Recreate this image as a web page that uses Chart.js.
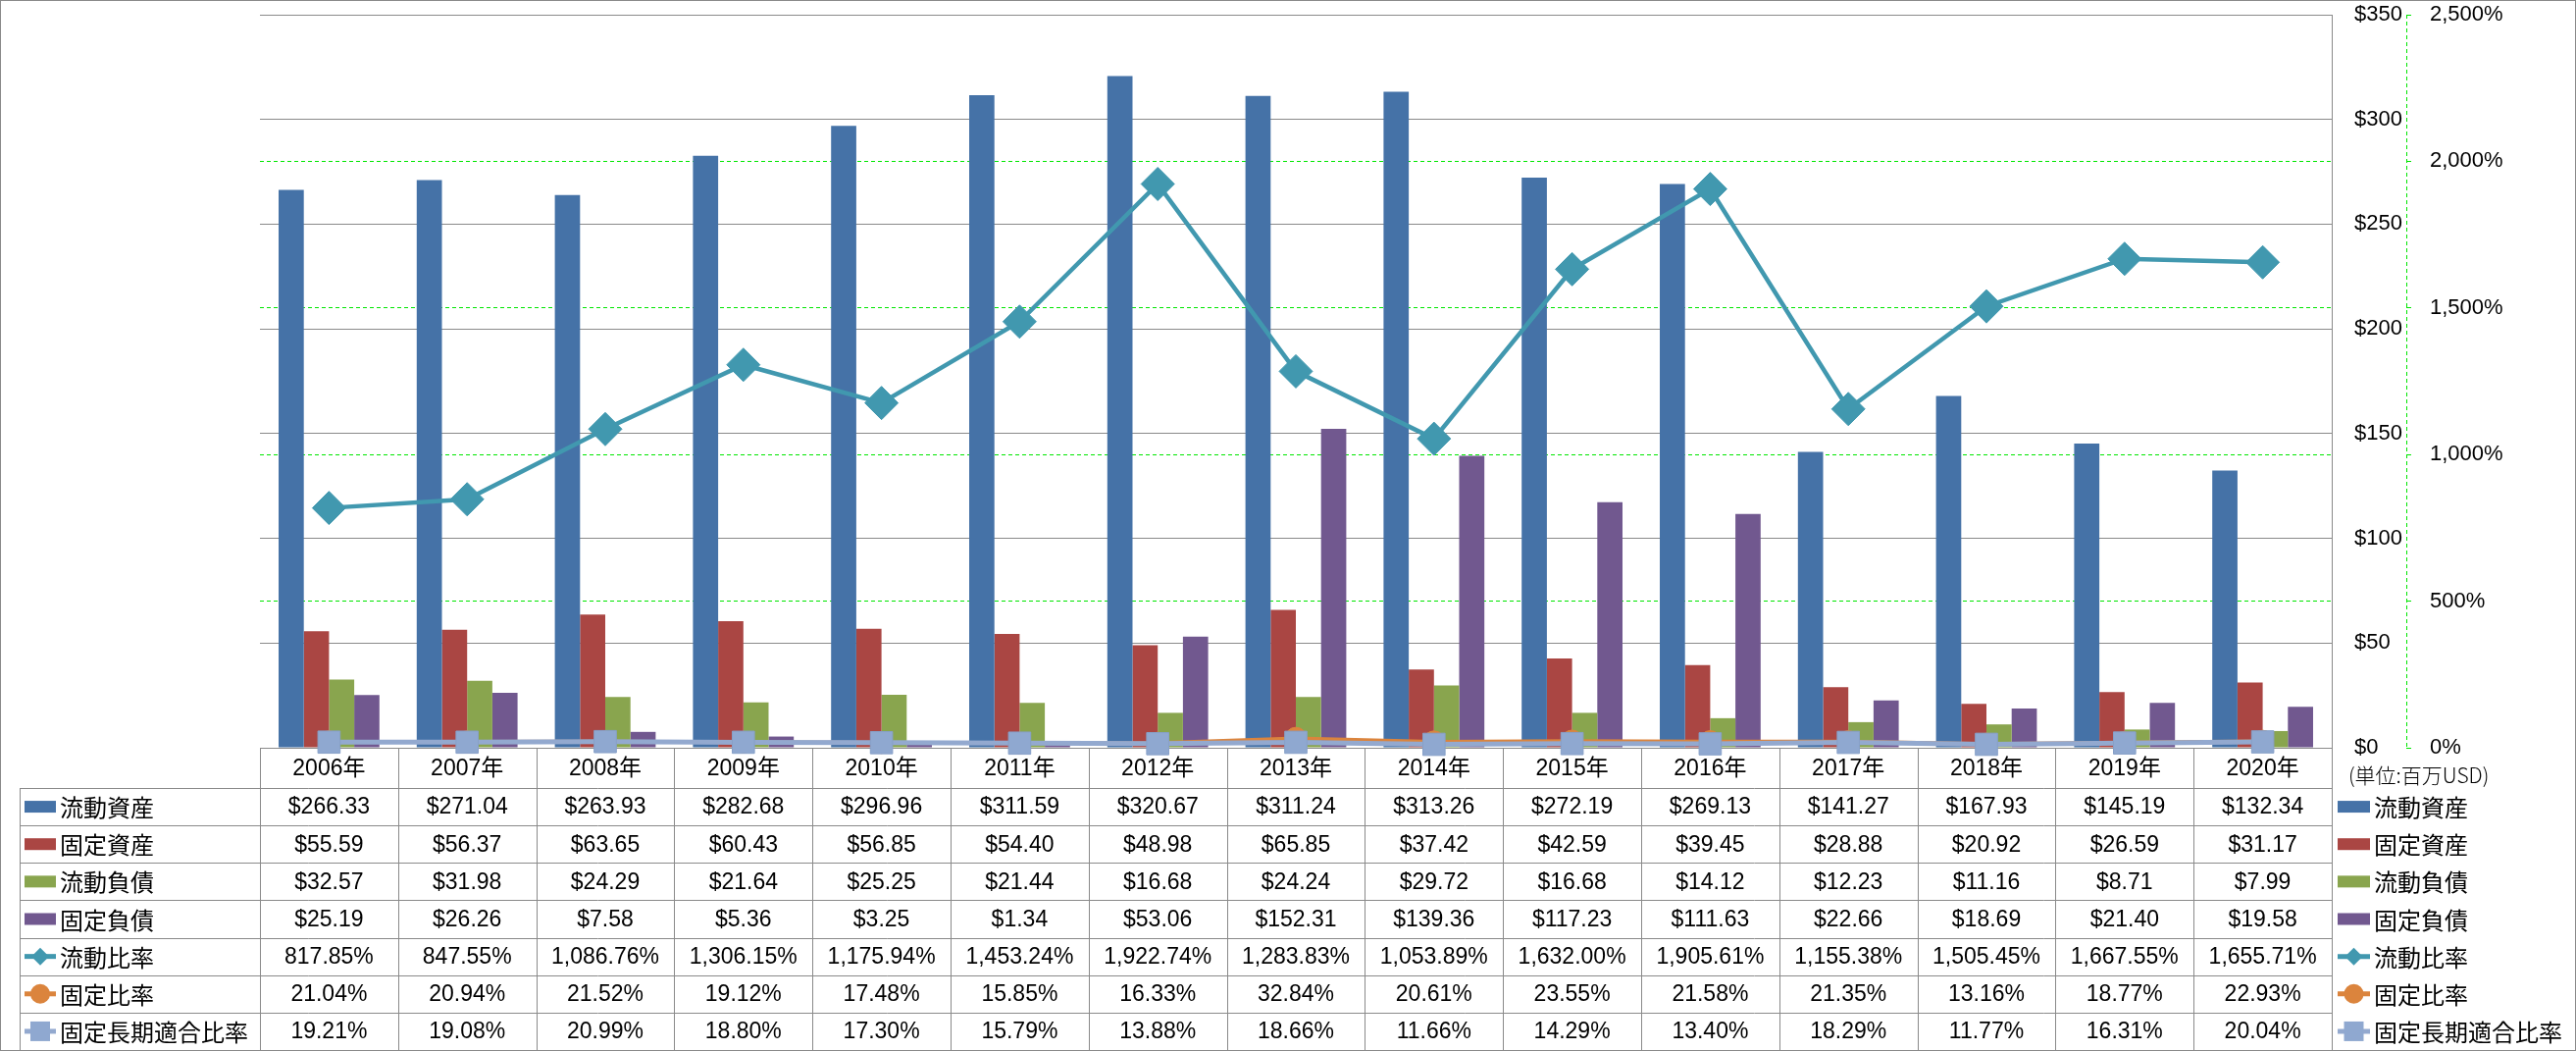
<!DOCTYPE html>
<html>
<head>
<meta charset="utf-8">
<title>流動資産・固定資産・負債と比率</title>
<script src="https://cdn.jsdelivr.net/npm/chart.js@4.4.1/dist/chart.umd.min.js"></script>
<style>
html, body { margin: 0; padding: 0; background: #fff; }
#wrap { width: 2626px; height: 1071px; position: relative; }
</style>
</head>
<body>
<div id="wrap"><canvas id="finChart"></canvas></div>
<script>
// --- data (単位: 百万USD / %) ---
var years = ['2006年','2007年','2008年','2009年','2010年','2011年','2012年','2013年','2014年','2015年','2016年','2017年','2018年','2019年','2020年'];
var currentAssets = [266.33, 271.04, 263.93, 282.68, 296.96, 311.59, 320.67, 311.24, 313.26, 272.19, 269.13, 141.27, 167.93, 145.19, 132.34];
var fixedAssets = [55.59, 56.37, 63.65, 60.43, 56.85, 54.40, 48.98, 65.85, 37.42, 42.59, 39.45, 28.88, 20.92, 26.59, 31.17];
var currentLiabilities = [32.57, 31.98, 24.29, 21.64, 25.25, 21.44, 16.68, 24.24, 29.72, 16.68, 14.12, 12.23, 11.16, 8.71, 7.99];
var fixedLiabilities = [25.19, 26.26, 7.58, 5.36, 3.25, 1.34, 53.06, 152.31, 139.36, 117.23, 111.63, 22.66, 18.69, 21.40, 19.58];
var currentRatio = [817.85, 847.55, 1086.76, 1306.15, 1175.94, 1453.24, 1922.74, 1283.83, 1053.89, 1632.00, 1905.61, 1155.38, 1505.45, 1667.55, 1655.71];
var fixedRatio = [21.04, 20.94, 21.52, 19.12, 17.48, 15.85, 16.33, 32.84, 20.61, 23.55, 21.58, 21.35, 13.16, 18.77, 22.93];
var fixedLongTermRatio = [19.21, 19.08, 20.99, 18.80, 17.30, 15.79, 13.88, 18.66, 11.66, 14.29, 13.40, 18.29, 11.77, 16.31, 20.04];
var seriesNames = ['流動資産', '固定資産', '流動負債', '固定負債', '流動比率', '固定比率', '固定長期適合比率'];
var unitLabel = '(単位:百万USD)';

var lineGray = '#8a8a8a';
var gridGreen = '#00e600';
var numFont = '"Liberation Sans", "Noto Sans CJK JP", sans-serif';
var jpFont = '"Noto Sans CJK JP", sans-serif';

function fmtDollar(v) {
    return '$' + v.toLocaleString('en-US', {minimumFractionDigits: 2, maximumFractionDigits: 2});
}
function fmtPct(v) {
    return v.toLocaleString('en-US', {minimumFractionDigits: 2, maximumFractionDigits: 2}) + '%';
}

// small legend icon: bar swatch or line + marker
function drawIcon(ctx, ds, x0, x1, yc) {
    ctx.save();
    if (ds.type !== 'line') {
        ctx.fillStyle = ds.backgroundColor;
        ctx.fillRect(x0, yc - 6, x1 - x0, 12);
    } else {
        ctx.strokeStyle = ds.borderColor;
        ctx.lineWidth = 5;
        ctx.beginPath();
        ctx.moveTo(x0, yc);
        ctx.lineTo(x1, yc);
        ctx.stroke();
        var cx = (x0 + x1) / 2;
        ctx.fillStyle = ds.pointBackgroundColor;
        ctx.beginPath();
        if (ds.pointStyle === 'rectRot') {
            ctx.moveTo(cx, yc - 9); ctx.lineTo(cx + 9, yc); ctx.lineTo(cx, yc + 9); ctx.lineTo(cx - 9, yc);
            ctx.closePath();
        } else if (ds.pointStyle === 'circle') {
            ctx.arc(cx, yc, 10, 0, Math.PI * 2);
        } else {
            ctx.rect(cx - 10, yc - 10, 20, 20);
        }
        ctx.fill();
    }
    ctx.restore();
}

// axes are placed by hand, so drop the label overflow padding
function fixAxis(w) {
    return function(s) {
        s.width = w;
        s.paddingTop = 0;
        s.paddingBottom = 0;
    };
}

var tablePlugin = {
    id: 'dataTable',
    afterDraw: function(chart) {
        var ctx = chart.ctx;
        var area = chart.chartArea;
        var xs = chart.scales.x;
        var y2 = chart.scales.y2;
        var n = years.length;
        var colW = (area.right - area.left) / n;
        var headTop = area.bottom;
        var headBottom = 803;
        var tableBottom = 1070;
        var tableLeft = 20;
        var rowH = (tableBottom - headBottom) / seriesNames.length;
        var sets = chart.data.datasets;
        var values = [currentAssets, fixedAssets, currentLiabilities, fixedLiabilities, currentRatio, fixedRatio, fixedLongTermRatio];

        ctx.save();
        // dashed axis line of the ratio scale
        ctx.strokeStyle = gridGreen;
        ctx.lineWidth = 1;
        ctx.setLineDash([4, 3]);
        ctx.beginPath();
        ctx.moveTo(Math.round(y2.left) + 0.5, area.top);
        ctx.lineTo(Math.round(y2.left) + 0.5, area.bottom);
        ctx.stroke();
        ctx.setLineDash([]);

        // table grid
        ctx.strokeStyle = lineGray;
        ctx.beginPath();
        for (var i = 0; i <= n; i++) {
            var vx = Math.round(area.left + i * colW) + 0.5;
            ctx.moveTo(vx, headTop);
            ctx.lineTo(vx, tableBottom);
        }
        ctx.moveTo(tableLeft + 0.5, headBottom);
        ctx.lineTo(tableLeft + 0.5, tableBottom);
        for (var r = 0; r <= seriesNames.length; r++) {
            var hy = Math.round(headBottom + r * rowH) + 0.5;
            ctx.moveTo(tableLeft, hy);
            ctx.lineTo(Math.round(area.right) + 1, hy);
        }
        ctx.stroke();

        // header row
        ctx.fillStyle = '#000';
        ctx.textAlign = 'center';
        ctx.textBaseline = 'middle';
        ctx.font = '23px ' + numFont;
        for (var c = 0; c < n; c++) {
            ctx.fillText(years[c], xs.getPixelForValue(c), (headTop + headBottom) / 2 + 1);
        }

        // body rows
        for (var s = 0; s < seriesNames.length; s++) {
            var yc = headBottom + (s + 0.5) * rowH;
            ctx.font = '23px ' + numFont;
            ctx.textAlign = 'center';
            for (var k = 0; k < n; k++) {
                var txt = s < 4 ? fmtDollar(values[s][k]) : fmtPct(values[s][k]);
                ctx.fillText(txt, xs.getPixelForValue(k), yc + 1);
            }
            // left legend
            drawIcon(ctx, sets[s], 25, 57, yc);
            ctx.font = '24px ' + jpFont;
            ctx.textAlign = 'left';
            ctx.fillText(seriesNames[s], 61, yc + 1);
            // right legend
            drawIcon(ctx, sets[s], 2383, 2416, yc);
            ctx.fillText(seriesNames[s], 2420, yc + 1);
        }

        // unit
        ctx.font = '300 21px ' + jpFont;
        ctx.textAlign = 'left';
        ctx.fillText(unitLabel, 2394, 790);

        // outer frame
        ctx.strokeStyle = lineGray;
        ctx.strokeRect(0.5, 0.5, chart.width - 1, chart.height - 1);
        ctx.restore();
    }
};

var ctx = document.getElementById('finChart').getContext('2d');
var chart = new Chart(ctx, {
    type: 'bar',
    data: {
        labels: years,
        datasets: [
            { label: seriesNames[0], data: currentAssets, backgroundColor: '#4572a7', yAxisID: 'y', order: 4 },
            { label: seriesNames[1], data: fixedAssets, backgroundColor: '#aa4643', yAxisID: 'y', order: 4 },
            { label: seriesNames[2], data: currentLiabilities, backgroundColor: '#89a54e', yAxisID: 'y', order: 4 },
            { label: seriesNames[3], data: fixedLiabilities, backgroundColor: '#71588f', yAxisID: 'y', order: 4 },
            {
                type: 'line', label: seriesNames[4], data: currentRatio, yAxisID: 'y2', order: 1,
                borderColor: '#4198af', backgroundColor: '#4198af', borderWidth: 4.5,
                pointStyle: 'rectRot', pointRadius: 17, pointBackgroundColor: '#4198af',
                pointBorderColor: '#4198af', pointBorderWidth: 1, tension: 0, clip: false
            },
            {
                type: 'line', label: seriesNames[5], data: fixedRatio, yAxisID: 'y2', order: 3,
                borderColor: '#db843d', backgroundColor: '#db843d', borderWidth: 3.5,
                pointStyle: 'circle', pointRadius: 11, pointBackgroundColor: '#db843d',
                pointBorderColor: '#db843d', pointBorderWidth: 1, tension: 0, clip: false
            },
            {
                type: 'line', label: seriesNames[6], data: fixedLongTermRatio, yAxisID: 'y2', order: 2,
                borderColor: '#93a9cf', backgroundColor: '#93a9cf', borderWidth: 5,
                pointStyle: 'rect', pointRadius: 16, pointBackgroundColor: '#8fa8d0',
                pointBorderColor: '#87a0c8', pointBorderWidth: 1, tension: 0, clip: false
            }
        ]
    },
    options: {
        responsive: true,
        maintainAspectRatio: false,
        animation: false,
        devicePixelRatio: 1,
        categoryPercentage: 0.73,
        barPercentage: 1,
        layout: { autoPadding: false, padding: { left: 265, top: 15, bottom: 309, right: 53 } },
        plugins: {
            legend: { display: false },
            tooltip: { enabled: false }
        },
        scales: {
            x: { display: false },
            y: {
                position: 'right', weight: 0, min: 0, max: 350,
                ticks: {
                    stepSize: 50, padding: 23, color: '#000',
                    font: { family: numFont, size: 22 },
                    callback: function(v) { return '$' + v; }
                },
                grid: { color: lineGray, lineWidth: 1, drawTicks: false },
                border: { display: true, color: lineGray, width: 1 },
                afterFit: fixAxis(76)
            },
            y2: {
                position: 'right', weight: 1, min: 0, max: 2500,
                ticks: {
                    stepSize: 500, padding: 19, color: '#000',
                    font: { family: numFont, size: 22 },
                    callback: function(v) { return v.toLocaleString('en-US') + '%'; }
                },
                grid: {
                    color: function(c) {
                        if (c.tick && (c.tick.value === 0 || c.tick.value === 2500)) return 'rgba(0,0,0,0)';
                        return gridGreen;
                    },
                    tickColor: gridGreen, tickLength: 5, lineWidth: 1, tickBorderDash: []
                },
                border: { display: false, dash: [4, 3] },
                afterFit: fixAxis(120)
            }
        }
    },
    plugins: [tablePlugin]
});
</script>
</body>
</html>
